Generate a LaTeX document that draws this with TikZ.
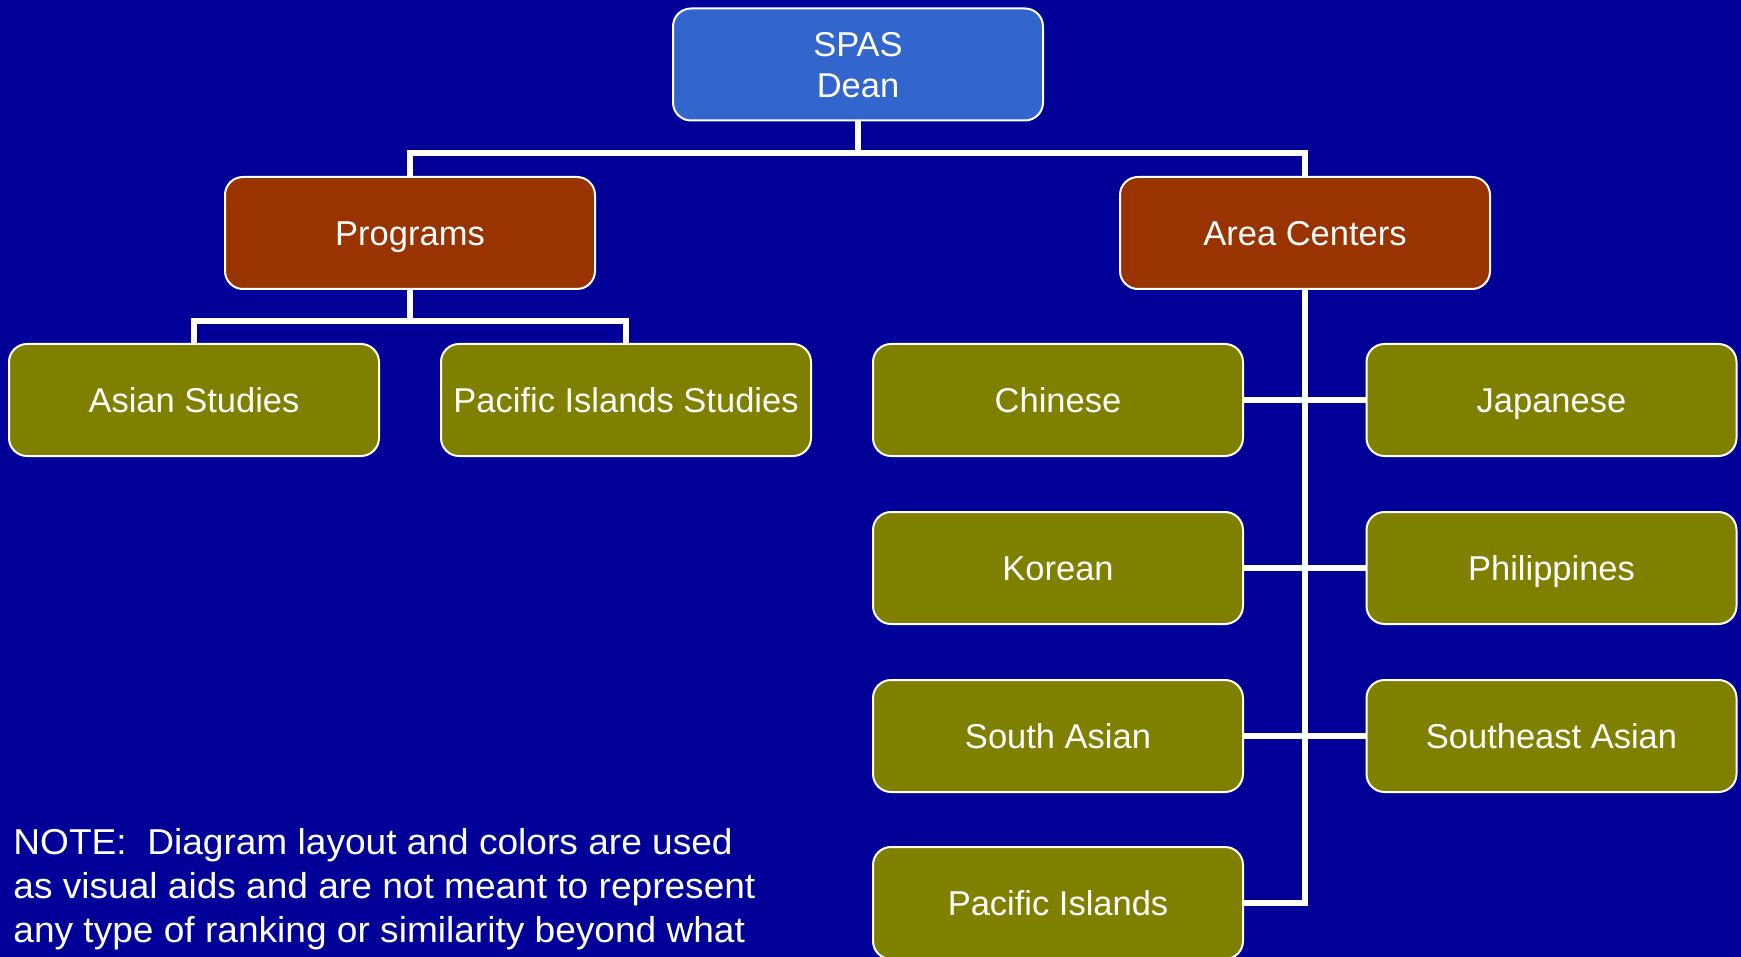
\documentclass[tikz,border=0pt]{standalone}
\usepackage{fontspec}
\setmainfont{Liberation Sans}
\newfontfamily\notefont[FakeStretch=1.03]{Liberation Sans}
\definecolor{bgblue}{RGB}{0,0,153}
\definecolor{deanblue}{RGB}{51,102,204}
\definecolor{rust}{RGB}{153,51,0}
\definecolor{olive}{RGB}{128,128,0}
\tikzset{
  box/.style={draw=white, line width=1pt, rounded corners=9pt, minimum width=185pt,
    minimum height=56pt, inner sep=0pt, text=white, align=center,
    text height=12.35pt, text depth=0pt,
    font=\fontsize{17.25pt}{20.5pt}\selectfont},
  deanbox/.style={box, fill=deanblue, text height=32.85pt},
  topbox/.style={box, fill=rust},
  leafbox/.style={box, fill=olive},
  link/.style={draw=white, line width=2.6pt, line join=miter},
  notetext/.style={text=white, inner sep=0pt, anchor=base west,
    font=\notefont\fontsize{18pt}{22pt}\selectfont}
}
\begin{document}
\begin{tikzpicture}[x=0.5pt, y=-0.5pt]
\fill[bgblue] (0,0) rectangle (1741,957);
\useasboundingbox (0,0) rectangle (1741,957);

\node[deanbox] (dean) at (858,64.5) {SPAS\\Dean};
\node[topbox] (prog) at (410,233) {Programs};
\node[topbox] (area) at (1305,233) {Area Centers};

\node[leafbox] (asian) at (194,400) {Asian Studies};
\node[leafbox] (pis) at (626,400) {Pacific Islands Studies};

\node[leafbox] (chinese) at (1058,400) {Chinese};
\node[leafbox] (japanese) at (1551.5,400) {Japanese};
\node[leafbox] (korean) at (1058,568) {Korean};
\node[leafbox] (phil) at (1551.5,568) {Philippines};
\node[leafbox] (southasian) at (1058,736) {South Asian};
\node[leafbox] (seasian) at (1551.5,736) {Southeast Asian};
\node[leafbox] (pacisl) at (1058,903) {Pacific Islands};

\coordinate (j1) at (858,153);
\coordinate (j2) at (410,321);

\draw[link] (dean.south) -- (j1);
\draw[link] (prog.north) |- (j1) -| (area.north);
\draw[link] (prog.south) -- (j2);
\draw[link] (asian.north) |- (j2) -| (pis.north);
\draw[link] (area.south) |- (pacisl.east);
\draw[link] (chinese.east) -- (japanese.west);
\draw[link] (korean.east) -- (phil.west);
\draw[link] (southasian.east) -- (seasian.west);

\node[notetext] (note1) at (13,854) {NOTE:\ \ Diagram layout and colors are used};
\node[notetext] (note2) at (13,898) {as visual aids and are not meant to represent};
\node[notetext] (note3) at (13,942) {any type of ranking or similarity beyond what};
\end{tikzpicture}
\end{document}
